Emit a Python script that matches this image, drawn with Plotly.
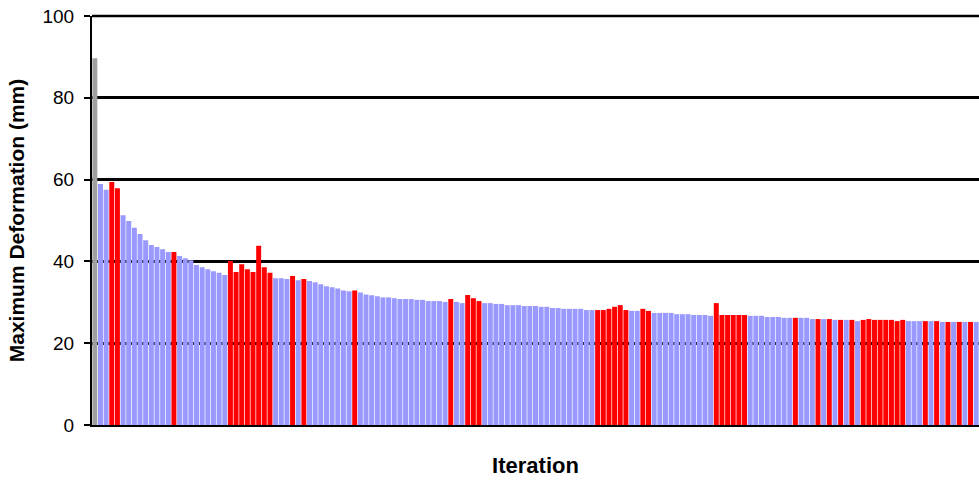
import plotly.graph_objects as go

# Maximum deformation per iteration (mm)
values = [
    89.7, 58.9, 57.5, 59.4, 57.9, 51.3, 49.9, 48.2, 46.7, 45.2,
    44.0, 43.5, 43.0, 42.3, 42.3, 41.3, 40.8, 40.3, 39.1, 38.6,
    38.1, 37.6, 37.2, 36.7, 40.1, 37.4, 39.3, 38.1, 37.4, 43.8,
    38.6, 37.2, 35.9, 35.9, 35.7, 36.4, 35.4, 35.7, 35.2, 34.9,
    34.4, 33.9, 33.7, 33.4, 32.9, 32.7, 32.9, 32.4, 31.9, 31.7,
    31.5, 31.2, 31.2, 31.0, 30.8, 30.8, 30.8, 30.6, 30.6, 30.3,
    30.3, 30.3, 30.1, 30.8, 30.1, 29.8, 31.8, 31.0, 30.3, 29.8,
    29.8, 29.6, 29.6, 29.3, 29.3, 29.3, 29.1, 29.1, 29.1, 28.9,
    28.9, 28.6, 28.6, 28.4, 28.4, 28.4, 28.4, 28.1, 28.1, 28.1,
    28.1, 28.4, 28.9, 29.3, 28.1, 27.9, 27.9, 28.4, 27.9, 27.4,
    27.4, 27.4, 27.4, 27.1, 27.1, 27.1, 26.9, 26.9, 26.9, 26.7,
    29.8, 26.9, 26.9, 26.9, 26.9, 26.9, 26.7, 26.7, 26.7, 26.4,
    26.4, 26.4, 26.2, 26.2, 26.2, 26.2, 26.2, 25.9, 25.9, 25.9,
    25.9, 25.7, 25.7, 25.7, 25.7, 25.4, 25.7, 25.9, 25.7, 25.7,
    25.7, 25.7, 25.4, 25.7, 25.4, 25.4, 25.4, 25.4, 25.4, 25.4,
    25.2, 25.2, 25.2, 25.2, 25.2, 25.2, 25.2,
]

# g = initial, b = regular, r = highlighted
kinds = (
    "gbbrrbbbbb"
    "bbbbrbbbbb"
    "bbbbrrrrrr"
    "rrbbbrbrbb"
    "bbbbbbrbbb"
    "bbbbbbbbbb"
    "bbbrbbrrrb"
    "bbbbbbbbbb"
    "bbbbbbbbbr"
    "rrrrrbbrrb"
    "bbbbbbbbbb"
    "rrrrrrbbbb"
    "bbbbrbbbrb"
    "rbrbrbrrrr"
    "rrrrbbbrbr"
    "brbrbrb"
)

y_ticks = [0, 20, 40, 60, 80, 100]

iterations = list(range(1, len(values) + 1))
palette = {"g": "#A0A0A0", "b": "#9999FF", "r": "#FF0000"}
colors = [palette[k] for k in kinds]

fig = go.Figure(
    go.Bar(
        x=iterations,
        y=values,
        marker=dict(color=colors, line=dict(width=0)),
        hoverinfo="x+y",
    )
)

font_family = "Liberation Sans, Arial, sans-serif"

fig.update_layout(
    width=979,
    height=481,
    margin=dict(l=92, r=0, t=16, b=56),
    plot_bgcolor="white",
    paper_bgcolor="white",
    bargap=0.12,
    showlegend=False,
    font=dict(family=font_family, color="black"),
)

# top gridline along the upper edge of the plot area (not clipped)
fig.add_shape(
    type="line", xref="paper", yref="paper",
    x0=0, x1=1, y0=1, y1=1,
    line=dict(color="black", width=2.5),
    layer="below",
)

fig.update_xaxes(
    type="linear",
    range=[0.5, len(values) + 0.5],
    showticklabels=False,
    ticks="",
    showgrid=False,
    zeroline=False,
    showline=True,
    linecolor="black",
    linewidth=2,
    title=dict(text="<b>Iteration</b>", font=dict(size=22, family=font_family), standoff=32),
)

fig.update_yaxes(
    range=[y_ticks[0], y_ticks[-1]],
    tickvals=y_ticks,
    ticks="outside",
    ticklen=6,
    tickwidth=2,
    tickcolor="black",
    ticklabelstandoff=6,
    tickfont=dict(size=19, family=font_family),
    showgrid=True,
    gridcolor="black",
    gridwidth=2.5,
    zeroline=False,
    showline=True,
    linecolor="black",
    linewidth=2,
    title=dict(text="<b>Maximum Deformation (mm)</b>", font=dict(size=21, family=font_family), standoff=12),
)

fig.write_html("out.html")
